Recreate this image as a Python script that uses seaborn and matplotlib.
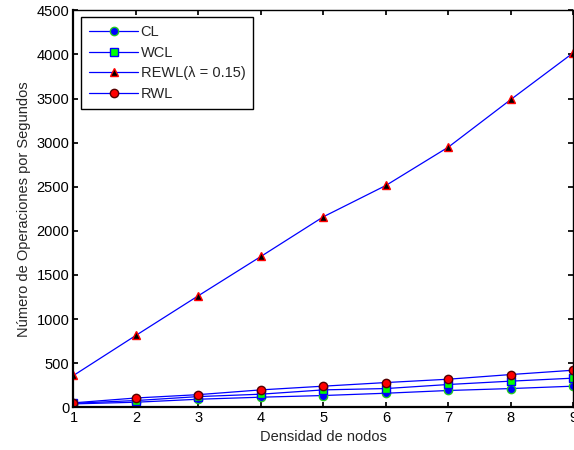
import matplotlib
matplotlib.use("Agg")
import matplotlib.pyplot as plt
import seaborn as sns
import pandas as pd

density = [1, 2, 3, 4, 5, 6, 7, 8, 9]
cl = [38, 57, 91, 114, 133, 159, 190, 212, 239]
wcl = [45, 76, 121, 148, 197, 212, 258, 296, 330]
rewl = [360, 815, 1265, 1710, 2160, 2515, 2950, 3490, 4020]
rwl = [50, 105, 143, 197, 239, 280, 318, 371, 420]
labels = ["CL", "WCL", "REWL(λ = 0.15)", "RWL"]
yticks = [0, 500, 1000, 1500, 2000, 2500, 3000, 3500, 4000, 4500]

sns.set_theme(style="white")
plt.rcParams['font.family'] = ['Liberation Sans', 'DejaVu Sans']

FS = 10.5
fig = plt.figure(figsize=(5.74, 4.5), dpi=100)
ax = fig.add_axes([0.128, 0.095, 0.871, 0.882])

styles = [
    dict(marker="o", markerfacecolor="#0000ff", markeredgecolor="#22cc22"),
    dict(marker="s", markerfacecolor="#00ff00", markeredgecolor="#0000ff"),
    dict(marker="^", markerfacecolor="#000000", markeredgecolor="#ff0000"),
    dict(marker="o", markerfacecolor="#ff0000", markeredgecolor="#550000"),
]
series = [cl, wcl, rewl, rwl]
for vals, lab, st in zip(series, labels, styles):
    df = pd.DataFrame({"x": density, "y": vals})
    sns.lineplot(data=df, x="x", y="y", ax=ax, color="#0000ff", linewidth=0.9,
                 markersize=6, markeredgewidth=1, label=lab, **st)

ax.set_xlim(1, 9)
ax.set_ylim(0, 4500)
ax.set_xticks(density)
ax.set_yticks(yticks)
ax.tick_params(direction="in", length=3.5, labelsize=FS, top=True, right=True,
               bottom=True, left=True, colors="black", pad=3)
for s in ax.spines.values():
    s.set_color("black")
    s.set_linewidth(1.0)
ax.spines["left"].set_linewidth(1.6)
ax.spines["bottom"].set_linewidth(1.6)
ax.set_xlabel("Densidad de nodos", fontsize=FS, labelpad=3)
ax.set_ylabel("Número de Operaciones por Segundos", fontsize=FS, labelpad=4)
ax.grid(False)

leg = ax.legend(loc="upper left", bbox_to_anchor=(0.016, 0.983), fontsize=FS,
                handlelength=3.3, frameon=True, fancybox=False, edgecolor="black",
                framealpha=1, borderpad=0.55, labelspacing=0.45, handletextpad=0.2,
                borderaxespad=0.0)
leg.get_frame().set_linewidth(1.0)

fig.savefig("out.png", dpi=100)
